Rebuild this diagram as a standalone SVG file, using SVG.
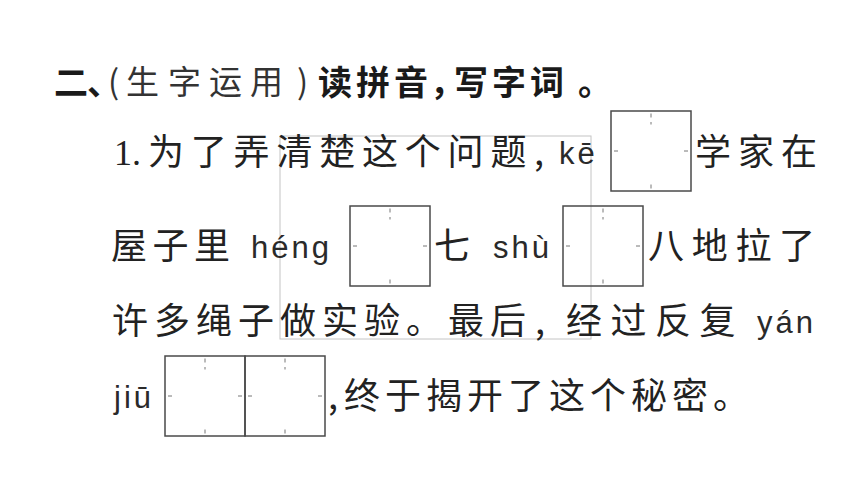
<svg xmlns="http://www.w3.org/2000/svg" width="860" height="484" viewBox="0 0 860 484">
<defs>
<style>
.cjk{font-family:"Noto Sans CJK SC","Noto Sans CJK JP",sans-serif;font-size:36px;fill:#222;}
.tb{font-family:"Noto Sans CJK SC","Noto Sans CJK JP",sans-serif;font-size:34px;font-weight:700;fill:#1a1a1a;}
.tp{font-family:"Noto Sans CJK SC","Noto Sans CJK JP",sans-serif;font-size:33px;font-weight:400;fill:#333;}
.py{font-family:"Liberation Sans",Arial,sans-serif;font-size:31px;letter-spacing:3px;fill:#2a2a2a;}
.num{font-family:"Liberation Serif","Times New Roman",serif;font-size:36px;fill:#222;}
.box{fill:none;stroke:#4a4a4a;stroke-width:1.5;}
.tick{fill:none;stroke:#777;stroke-width:1;}
.faint{fill:none;stroke:#c4c4c4;stroke-width:1;}
</style>
<g id="grid">
<rect class="box" x="0" y="0" width="80" height="80"/>
<path class="tick" d="M40 2.5V6.5M40 11V13.5M40 73.5V77.5M3 40H7M73 40H77"/>
</g>
</defs>

<rect class="faint" x="280" y="136" width="311" height="203"/>

<g id="title">
<text y="95"><tspan class="tb" x="54 87">二、</tspan><tspan class="tp" x="108 126 168 209 250 297" y="94">(生字运用)</tspan><tspan class="tb" x="318 356 394 430 454 492 530 578" y="95">读拼音，写字词。</tspan></text>
</g>

<g id="line1">
<text class="num" x="114" y="165">1.</text>
<text class="cjk" x="148" y="165" letter-spacing="6.8">为了弄清楚这个问题</text>
<text class="cjk" x="534" y="165">,</text>
<text class="py" x="559" y="164">kē</text>
<text class="cjk" x="695" y="165" letter-spacing="7">学家在</text>
</g>

<g id="line2">
<text class="cjk" x="111" y="259" letter-spacing="5.5">屋子里</text>
<text class="py" x="251" y="258">héng</text>
<text class="cjk" x="434" y="259">七</text>
<text class="py" x="493" y="258">shù</text>
<text class="cjk" x="648" y="259" letter-spacing="7.7">八地拉了</text>
</g>

<g id="line3">
<text class="cjk" x="112" y="334" letter-spacing="6">许多绳子做实验。最后</text>
<text class="cjk" x="535" y="334">,</text>
<text class="cjk" x="566" y="334" letter-spacing="8.5">经过反复</text>
<text class="py" x="757" y="333">yán</text>
</g>

<g id="line4">
<text class="py" x="114" y="408">jiū</text>
<text class="cjk" x="328" y="409">,</text>
<text class="cjk" x="344" y="409" letter-spacing="5">终于揭开了这个秘密。</text>
</g>

<g id="box-ke"><use href="#grid" x="611" y="111"/></g>
<g id="box-heng"><use href="#grid" x="350" y="206"/></g>
<g id="box-shu"><use href="#grid" x="563" y="206"/></g>
<g id="box-yanjiu">
<use href="#grid" x="165" y="356"/>
<use href="#grid" x="245" y="356"/>
</g>
</svg>
